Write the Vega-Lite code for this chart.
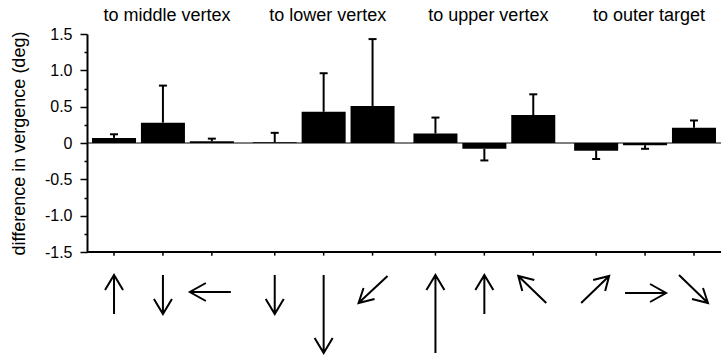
{
  "$schema": "https://vega.github.io/schema/vega-lite/v6.json",
  "autosize": {"type": "none"},
  "padding": {"left": 87, "top": 34, "right": 0, "bottom": 104},
  "width": 634,
  "height": 218,
  "config": {
    "view": {"stroke": null},
    "font": "Liberation Sans",
    "axisY": {"labelOverlap": false, "labelBound": false, "labelFlush": false}
  },
  "data": {
    "values": [
      {"target": "to middle vertex", "cond": 1, "direction": "up", "mean": 0.07, "errEnd": 0.12},
      {"target": "to middle vertex", "cond": 2, "direction": "down", "mean": 0.28, "errEnd": 0.79},
      {"target": "to middle vertex", "cond": 3, "direction": "left", "mean": 0.025, "errEnd": 0.06},
      {"target": "to lower vertex", "cond": 1, "direction": "down", "mean": 0.01, "errEnd": 0.14},
      {"target": "to lower vertex", "cond": 2, "direction": "down (long)", "mean": 0.43, "errEnd": 0.96},
      {"target": "to lower vertex", "cond": 3, "direction": "down-left", "mean": 0.51, "errEnd": 1.43},
      {"target": "to upper vertex", "cond": 1, "direction": "up (long)", "mean": 0.13, "errEnd": 0.35},
      {"target": "to upper vertex", "cond": 2, "direction": "up", "mean": -0.08, "errEnd": -0.24},
      {"target": "to upper vertex", "cond": 3, "direction": "up-left", "mean": 0.385, "errEnd": 0.67},
      {"target": "to outer target", "cond": 1, "direction": "up-right", "mean": -0.105, "errEnd": -0.22},
      {"target": "to outer target", "cond": 2, "direction": "right", "mean": -0.03, "errEnd": -0.08},
      {"target": "to outer target", "cond": 3, "direction": "down-right", "mean": 0.21, "errEnd": 0.31}
    ]
  },
  "layer": [
    {
      "mark": {"type": "bar", "color": "black"},
      "encoding": {
        "x": {
          "field": "target", "type": "nominal", "sort": null,
          "scale": {"paddingInner": 0.087, "paddingOuter": 0.016},
          "axis": {
            "orient": "top", "title": null, "domain": false, "ticks": false,
            "labelAngle": 0, "labelFontSize": 18, "labelColor": "black",
            "labelPadding": 10, "labelOffset": 4
          }
        },
        "xOffset": {"field": "cond", "type": "nominal", "scale": {"paddingInner": 0.1, "paddingOuter": 0.05}},
        "y": {
          "field": "mean", "type": "quantitative",
          "scale": {"domain": [-1.5, 1.5], "nice": false, "zero": true},
          "axis": {
            "title": "difference in vergence (deg)",
            "titleFontSize": 18, "titleFontWeight": "normal", "titleColor": "black", "titlePadding": 16,
            "values": [-1.5, -1.25, -1, -0.75, -0.5, -0.25, 0, 0.25, 0.5, 0.75, 1, 1.25, 1.5],
            "tickCount": 100,
            "labelExpr": "datum.value == 0 ? '0' : (abs(datum.value*2 - round(datum.value*2)) > 0.01 ? '' : (datum.value < 0 ? '-' : '') + format(abs(datum.value), '.1f'))",
            "labelFontSize": 16, "labelColor": "black", "labelPadding": 8,
            "labelFlush": false, "labelOverlap": false, "labelBound": false,
            "grid": false,
            "domainColor": "black", "domainWidth": 2,
            "tickColor": "black", "tickWidth": 1.5,
            "tickSize": {"condition": {"test": "abs(datum.value*2 - round(datum.value*2)) < 0.01", "value": 7}, "value": 3}
          }
        }
      }
    },
    {
      "mark": {"type": "rule", "color": "black", "strokeWidth": 2},
      "encoding": {
        "x": {"field": "target", "type": "nominal", "sort": null},
        "xOffset": {"field": "cond", "type": "nominal"},
        "y": {"field": "mean", "type": "quantitative"},
        "y2": {"field": "errEnd"}
      }
    },
    {
      "mark": {"type": "tick", "color": "black", "thickness": 2, "size": 8, "opacity": 1, "orient": "horizontal"},
      "encoding": {
        "x": {"field": "target", "type": "nominal", "sort": null},
        "xOffset": {"field": "cond", "type": "nominal"},
        "y": {"field": "errEnd", "type": "quantitative"}
      }
    },
    {
      "mark": {"type": "rule", "color": "black", "strokeWidth": 1.5},
      "encoding": {
        "x": {"field": "target", "type": "nominal", "sort": null},
        "xOffset": {"field": "cond", "type": "nominal"},
        "y": {"datum": -1.5},
        "y2": {"datum": -1.55}
      }
    },
    {
      "mark": {"type": "point", "filled": false, "stroke": "black", "strokeWidth": 2, "opacity": 1, "size": 4},
      "encoding": {
        "x": {"field": "target", "type": "nominal", "sort": null},
        "xOffset": {"field": "cond", "type": "nominal"},
        "y": {"datum": -1.5},
        "shape": {
          "field": "direction", "type": "nominal", "legend": null,
          "scale": {
            "domain": ["up", "down", "left", "right", "down (long)", "up (long)", "down-left", "up-left", "up-right", "down-right"],
            "range": [
              "M0,23L0,62M-9,38L0,23L9,38",
              "M0,23L0,62M-9,47L0,62L9,47",
              "M-22,40L19,40M-6,31L-22,40L-6,49",
              "M-20,41L21,41M5,32L21,41L5,50",
              "M0,23L0,101M-9,86L0,101L9,86",
              "M0,23L0,101M-9,38L0,23L9,38",
              "M15,24L-14,51M2,47L-14,51L-9,36",
              "M13,51L-15,24M1,28L-15,24L-11,39",
              "M-15,51L13,24M-3,28L13,24L9,39",
              "M-15,23L14,51M-2,47L14,51L9,36"
            ]
          }
        }
      }
    },
    {
      "data": {"values": [{}]},
      "mark": {"type": "rule", "color": "black", "strokeWidth": 1},
      "encoding": {"y": {"datum": 0}}
    },
    {
      "data": {"values": [{}]},
      "mark": {"type": "rule", "color": "black", "strokeWidth": 2},
      "encoding": {"y": {"datum": -1.5}}
    }
  ]
}
